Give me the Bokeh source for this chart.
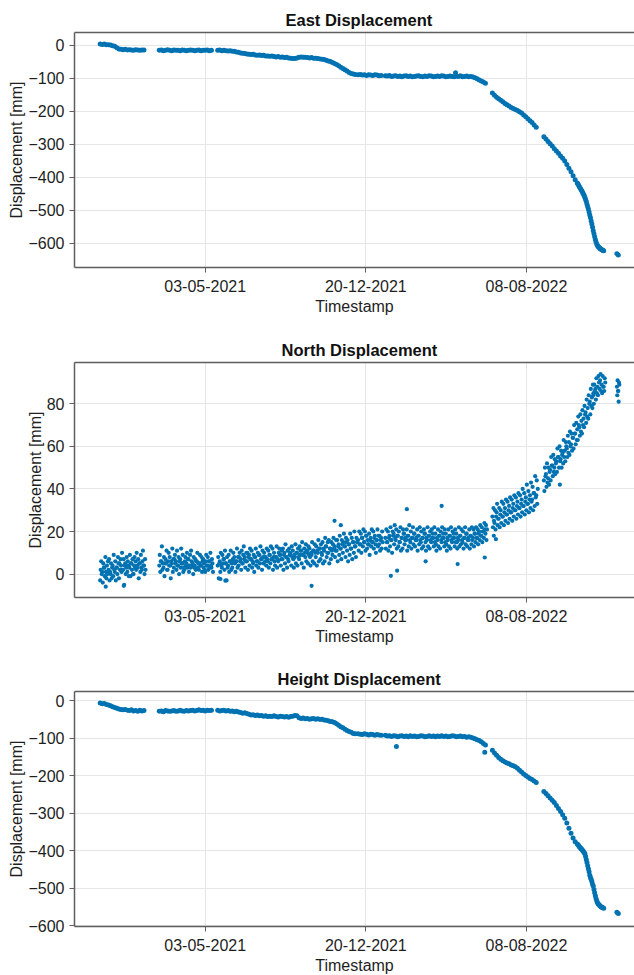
import numpy as np
from bokeh.plotting import figure
from bokeh.layouts import column
from bokeh.models import Range1d, FixedTicker, DatetimeTickFormatter, LinearAxis
from bokeh.embed import file_html
from bokeh.resources import INLINE

# ---------------- data ----------------
START = np.datetime64("2020-12-03")
# sampling runs of East / Height: first day offset and step (days)
seg_start = [0, 85, 169, 371, 410, 564, 638, 687, 709, 743]
seg_step = [3, 3, 3, 3, 3, 3, 3, 1, 1, 2]

east_vals = [
    [3, 2, 3, 1, 1, 0, -2, -4, -8, -12, -13, -14, -13, -15, -14, -15, -16, -14, -15, -16, -15, -15],
    [-16, -15, -17, -16, -14, -16, -17, -15, -16, -16, -17, -15, -16, -17, -16, -15, -16, -17, -16, -15,
     -17, -16, -16, -15, -17, -16],
    [-16, -15, -17, -16, -17, -18, -17, -19, -19, -21, -22, -24, -25, -26, -27, -28, -29, -28, -30, -31,
     -30, -32, -31, -33, -33, -34, -33, -35, -36, -35, -37, -36, -38, -37, -39, -40, -41, -41, -39, -37,
     -36, -37, -37, -38, -39, -38, -40, -40, -41, -42, -43, -44, -46, -48, -50, -53, -56, -59, -63, -67,
     -71, -75, -79, -83, -86, -88, -89],
    [-90, -89, -91, -90, -92, -90, -91, -92, -90, -91, -93, -92],
    [-93, -94, -92, -95, -94, -93, -95, -94, -96, -94, -93, -95, -94, -96, -95, -94, -93, -95, -96, -94,
     -95, -93, -94, -96, -95, -94, -95, -93, -94, -96, -95, -94, -95, -96, -94, -95, -93, -96, -95, -94,
     -96, -95, -97, -99, -102, -106, -109, -112, -116],
    [-145, -152, -158, -163, -167, -172, -177, -181, -185, -189, -192, -195, -198, -202, -206, -212, -217,
     -223, -229, -235, -242, -249],
    [-278, -285, -292, -299, -306, -314, -321, -328, -336, -343, -351, -362, -373, -384, -396, -408, -418],
    [-421, -425, -429, -432, -436, -440, -443, -448, -452, -456, -462, -468, -474, -482, -490, -497, -506,
     -515, -523, -533, -542, -552],
    [-563, -572, -581, -589, -597, -603, -607, -610, -612, -615, -617, -618, -620, -621, -622, -623],
    [-632, -636],
]
east_out_days = [511]
east_out_vals = [-84]

height_vals = [
    [-6, -8, -7, -10, -11, -13, -16, -18, -20, -22, -23, -24, -23, -25, -26, -24, -27, -26, -28, -25, -27, -26],
    [-28, -27, -29, -26, -27, -28, -27, -26, -28, -27, -25, -27, -28, -26, -27, -26, -25, -27, -26, -24,
     -26, -25, -27, -25, -26, -25],
    [-25, -27, -26, -25, -27, -26, -28, -27, -29, -28, -30, -31, -33, -32, -34, -36, -38, -37, -39, -38,
     -40, -39, -41, -40, -42, -41, -42, -40, -42, -43, -41, -42, -43, -42, -44, -42, -41, -39, -40, -45,
     -47, -46, -48, -47, -49, -48, -47, -49, -48, -50, -49, -51, -52, -53, -55, -56, -58, -61, -65, -69,
     -72, -76, -79, -82, -84, -87, -88],
    [-88, -89, -90, -88, -89, -91, -89, -90, -92, -90, -91, -92],
    [-92, -94, -93, -95, -93, -94, -96, -94, -93, -95, -94, -96, -93, -95, -94, -96, -95, -93, -94, -96,
     -95, -93, -95, -94, -96, -94, -95, -93, -95, -94, -96, -95, -93, -94, -96, -95, -94, -96, -95, -97,
     -96, -97, -99, -101, -104, -106, -109, -114, -118],
    [-132, -139, -145, -151, -156, -160, -163, -166, -168, -171, -173, -176, -180, -185, -190, -195, -199,
     -203, -207, -210, -214, -218],
    [-242, -247, -253, -259, -265, -271, -279, -287, -295, -304, -313, -326, -340, -353, -366, -376, -382],
    [-384, -386, -389, -391, -393, -395, -397, -400, -402, -405, -408, -415, -423, -431, -440, -448, -456,
     -465, -471, -476, -482, -489],
    [-494, -503, -512, -520, -527, -533, -538, -541, -543, -545, -547, -549, -550, -551, -552, -553],
    [-564, -567],
]
height_out_days = [426, 553]
height_out_vals = [-122, -137]

# North: daily-ish samples, four readings per three-day block
north_seg_start = [0, 85, 169, 371, 410, 564, 638, 709, 743]
north_seg_step = [3, 3, 3, 3, 3, 3, 3, 3, 2]
north_vals = [
    [[-3, 2, 6, 0], [1, -4, 5, 3], [3, -1, 8, 1], [-2, 4, 0, 6], [2, 7, -3, 1], [0, 5, -2, 3],
     [4, -1, 9, 2], [1, 6, -3, 3], [3, 0, 8, 5], [-2, 5, 2, 7], [4, 1, 10, 2], [2, 7, -5, 4],
     [5, 0, 3, 8], [1, 6, 4, -1], [3, 9, -1, 5], [5, 2, 7, 0], [0, 4, 8, 3], [6, 2, 10, 4],
     [3, 7, -2, 5], [5, 1, 9, 3], [2, 6, 11, 4], [4, 0, 7, 2]],
    [[4, 9, 1, 6], [6, 13, 2, 5], [3, 8, -1, 5], [7, 5, 11, 2], [2, 6, 10, 4], [8, 4, -2, 6],
     [5, 12, 1, 7], [3, 7, 9, 5], [6, 2, 11, 4], [4, 8, 0, 6], [7, 3, 12, 5], [5, 9, 1, 3],
     [2, 6, 8, 4], [5, 10, 3, 7], [7, 1, 4, 9], [3, 11, 6, 4], [5, 0, 8, 3], [4, 7, 2, 6],
     [6, 10, 3, 5], [2, 5, 9, 4], [4, 8, 1, 6], [7, 3, 5, 2], [1, 6, 9, 4], [4, 8, 2, 6],
     [6, 3, 10, 4], [3, 7, 5, 1]],
    [[4, 8, -2, 5], [6, 1, 10, 4], [3, 9, 5, 7], [7, 2, 11, 5], [5, -3, 8, 3], [4, 9, 1, 6],
     [6, 11, 2, 5], [3, 7, 10, 6], [8, 5, 1, 6], [6, 12, 3, 8], [4, 8, 10, 6], [7, 2, 11, 5],
     [5, 9, 13, 7], [8, 3, 6, 10], [6, 10, 2, 8], [9, 4, 12, 7], [7, 11, 3, 6], [5, 9, 1, 8],
     [8, 12, 4, 6], [6, 10, 3, 9], [9, 5, 13, 7], [7, 2, 11, 8], [5, 10, 8, 6], [8, 4, 12, 7],
     [6, 11, 3, 9], [9, 5, 13, 7], [7, 12, 2, 8], [10, 6, 4, 8], [8, 13, 3, 7], [6, 10, 12, 9],
     [9, 4, 7, 11], [7, 12, 2, 9], [10, 5, 14, 8], [8, 3, 11, 7], [6, 12, 9, 10], [9, 4, 13, 8],
     [11, 7, 3, 9], [8, 14, 5, 10], [10, 4, 12, 8], [7, 13, 9, 11], [11, 5, 15, 9], [9, 3, 12, 10],
     [8, 14, 6, 11], [10, 5, 13, 9], [12, 8, 4, 10], [9, 15, 6, 11], [11, 5, 14, 10], [8, 13, 4, 11],
     [10, 16, 6, 12], [12, 7, 14, 10], [9, 15, 5, 12], [11, 6, 17, 13], [13, 8, 10, 15], [10, 16, 5, 12],
     [12, 7, 15, 11], [9, 14, 17, 12], [13, 8, 11, 16], [11, 16, 6, 13], [14, 9, 18, 12], [12, 7, 16, 14],
     [10, 15, 19, 13], [13, 8, 17, 15], [11, 16, 6, 14], [14, 9, 19, 12], [12, 17, 7, 15], [15, 10, 20, 13],
     [13, 8, 17, 15]],
    [[16, 11, 20, 14], [14, 19, 10, 17], [17, 13, 21, 15], [15, 20, 11, 18], [18, 12, 16, 14],
     [14, 19, 9, 16], [17, 13, 21, 15], [15, 20, 12, 17], [18, 14, 10, 16], [16, 21, 13, 18],
     [14, 18, 11, 16], [17, 12, 20, 15]],
    [[17, 12, 21, 15], [15, 20, 11, 17], [18, 13, 22, 16], [16, 10, 20, 18], [19, 14, 23, 17],
     [16, 21, 12, 18], [18, 13, 20, 15], [15, 22, 11, 17], [17, 12, 21, 19], [19, 14, 16, 17],
     [16, 21, 11, 18], [18, 13, 23, 16], [15, 20, 12, 17], [17, 22, 14, 19], [19, 13, 16, 17],
     [16, 21, 11, 18], [18, 14, 22, 16], [15, 20, 12, 17], [17, 13, 21, 19], [19, 15, 11, 17],
     [16, 22, 13, 18], [18, 12, 20, 16], [15, 21, 17, 19], [17, 13, 22, 15], [19, 14, 11, 17],
     [16, 21, 13, 18], [18, 12, 20, 16], [15, 22, 17, 19], [17, 13, 21, 15], [19, 14, 11, 17],
     [16, 21, 13, 18], [18, 12, 22, 16], [15, 20, 17, 19], [17, 13, 21, 15], [19, 15, 12, 17],
     [16, 22, 13, 18], [18, 14, 21, 16], [15, 20, 12, 17], [17, 22, 14, 19], [19, 13, 16, 17],
     [16, 21, 12, 18], [18, 14, 22, 16], [17, 21, 13, 19], [19, 15, 22, 17], [17, 21, 14, 19],
     [20, 16, 23, 18], [18, 22, 15, 20], [20, 17, 24, 21], [19, 23, 16, 21]],
    [[27, 22, 31, 25], [24, 30, 21, 27], [29, 33, 23, 26], [26, 31, 22, 28], [30, 24, 34, 27],
     [27, 33, 23, 29], [31, 25, 35, 28], [28, 34, 24, 30], [32, 26, 36, 29], [29, 35, 25, 31],
     [33, 27, 37, 30], [30, 36, 26, 32], [34, 28, 38, 31], [31, 37, 27, 33], [35, 29, 40, 32],
     [32, 38, 28, 34], [36, 30, 42, 33], [33, 39, 29, 35], [37, 31, 43, 34], [35, 41, 30, 38],
     [38, 32, 46, 36], [37, 44, 33, 40]],
    [[44, 39, 50, 46], [47, 41, 52, 43], [45, 50, 42, 48], [49, 44, 55, 51], [51, 46, 56, 48],
     [50, 54, 47, 52], [53, 48, 59, 55], [55, 50, 60, 53], [54, 58, 50, 56], [57, 52, 63, 55],
     [58, 53, 62, 60], [59, 55, 65, 57], [62, 56, 67, 60], [61, 66, 58, 64], [64, 59, 70, 66],
     [66, 61, 71, 63], [68, 63, 74, 70], [69, 65, 75, 67], [72, 66, 77, 70], [73, 69, 79, 75],
     [76, 71, 82, 74], [78, 73, 84, 80], [81, 75, 87, 79], [83, 78, 89, 85]],
    [[84, 80, 89, 86], [87, 82, 92, 85], [88, 84, 93, 90], [87, 91, 94, 86], [89, 85, 93, 88],
     [88, 86, 92, 90]],
    [[88, 84, 91, 86], [86, 81, 90, 89]],
]
north_out_days = [8, 34, 173, 180, 304, 337, 346, 418, 427, 441, 468, 491, 514, 553, 566, 569, 661]
north_out_vals = [-5.9, -5.5, -2.3, -3.1, -5.5, 25, 23, -0.8, 1.6, 30.5, 6, 32, 4.7, 7.8, 18, 16.4, 42]

tick_dates = ["2021-05-03", "2021-12-20", "2022-08-08"]
east_yticks = [-600, -500, -400, -300, -200, -100, 0]
north_yticks = [0, 20, 40, 60, 80]
height_yticks = [-600, -500, -400, -300, -200, -100, 0]


# ---------------- helpers ----------------
def series_xy(segs, starts, steps, extra_days, extra_vals):
    xs, ys = [], []
    for k, vals in enumerate(segs):
        for i, v in enumerate(vals):
            d = starts[k] + steps[k] * i
            if isinstance(v, list):
                for j, vv in enumerate(v):
                    xs.append(d + j * steps[k] / len(v))
                    ys.append(vv)
            else:
                xs.append(d)
                ys.append(v)
    xs += list(extra_days)
    ys += list(extra_vals)
    hours = np.round(np.array(xs, dtype=float) * 24).astype("int64")
    t = START.astype("datetime64[h]") + hours.astype("timedelta64[h]")
    return t.astype("datetime64[ms]"), np.array(ys, dtype=float)


POINT = "#0072B2"
SPINE = "#5e5e5e"
GRID = "#e6e6e6"
TEXT = "#1e1e1e"
FONT = "Liberation Sans"

DAY_MS = 86400000
START_MS = START.astype("datetime64[ms]").astype(np.int64)
X0 = float(START_MS - 36.9 * DAY_MS)
X1 = float(START_MS + 768.3 * DAY_MS)
tick_ms = [int(np.datetime64(t).astype("datetime64[ms]").astype(np.int64)) for t in tick_dates]


def make_fig(title, title_offset, yr, yticks, xs, ys, size, top, bottom):
    p = figure(frame_width=560, frame_height=235, x_axis_type="datetime",
               x_range=Range1d(X0, X1), y_range=Range1d(*yr),
               output_backend="svg", toolbar_location=None,
               min_border_left=74, min_border_right=0, min_border_top=top, min_border_bottom=bottom,
               background_fill_color="white", border_fill_color="white")
    p.outline_line_color = None
    p.title.text = title
    p.title.align = "left"
    p.title.offset = title_offset
    p.title.text_font = FONT
    p.title.text_font_size = "16.5px"
    p.title.text_font_style = "bold"
    p.title.text_color = "#111111"
    p.title.standoff = 8

    xt = FixedTicker(ticks=tick_ms, minor_ticks=[])
    yt = FixedTicker(ticks=yticks, minor_ticks=[])
    p.xaxis.ticker = xt
    p.yaxis.ticker = yt
    p.xgrid.ticker = xt
    p.ygrid.ticker = yt
    p.xaxis.formatter = DatetimeTickFormatter(
        days="%d-%m-%Y", months="%d-%m-%Y", years="%d-%m-%Y", hours="%d-%m-%Y",
        hourmin="%d-%m-%Y", minutes="%d-%m-%Y", minsec="%d-%m-%Y", seconds="%d-%m-%Y",
        milliseconds="%d-%m-%Y", microseconds="%d-%m-%Y", strip_leading_zeros=False)
    p.xaxis.axis_label = "Timestamp"
    p.yaxis.axis_label = "Displacement [mm]"
    for ax in (p.xaxis, p.yaxis):
        ax.axis_line_color = SPINE
        ax.axis_line_width = 1.5
        ax.major_tick_line_color = SPINE
        ax.major_tick_line_width = 1
        ax.major_tick_out = 5
        ax.major_tick_in = 0
        ax.minor_tick_line_color = None
        ax.major_label_text_font = FONT
        ax.major_label_text_font_size = "16px"
        ax.major_label_text_color = TEXT
        ax.axis_label_text_font = FONT
        ax.axis_label_text_font_size = "16px"
        ax.axis_label_text_font_style = "normal"
        ax.axis_label_text_color = TEXT
    p.xaxis.major_label_standoff = 7
    p.yaxis.major_label_standoff = 5
    p.xaxis.axis_label_standoff = 3
    p.yaxis.axis_label_standoff = 0
    p.grid.grid_line_color = GRID
    p.grid.grid_line_width = 1

    top_axis = LinearAxis(ticker=FixedTicker(ticks=[]), axis_line_color=SPINE, axis_line_width=1.5,
                          major_tick_out=0, major_tick_in=0, major_label_standoff=0,
                          major_label_text_font_size="0px", minor_tick_line_color=None)
    p.add_layout(top_axis, "above")

    p.scatter(xs, ys, size=size, fill_color=POINT, line_color=POINT, line_width=0)
    return p


ex, ey = series_xy(east_vals, seg_start, seg_step, east_out_days, east_out_vals)
hx, hy = series_xy(height_vals, seg_start, seg_step, height_out_days, height_out_vals)
nx, ny = series_xy(north_vals, north_seg_start, north_seg_step, north_out_days, north_out_vals)

p1 = make_fig("East Displacement", 211, (-674, 38), east_yticks, ex, ey, 5, 32, 55)
p2 = make_fig("North Displacement", 207, (-11, 99.4), north_yticks, nx, ny, 4.2, 40, 55)
p3 = make_fig("Height Displacement", 203, (-602, 25), height_yticks, hx, hy, 5, 39, 49)

layout = column(p1, p2, p3, spacing=0)
open("out.html", "w").write(file_html(layout, INLINE))
